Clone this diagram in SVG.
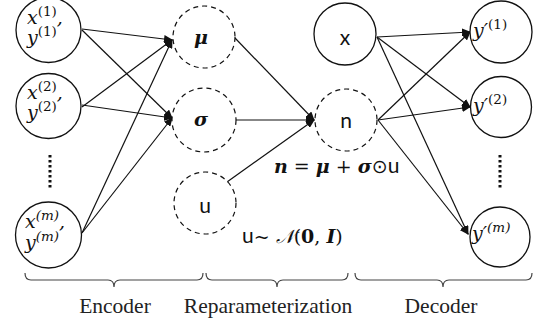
<svg xmlns="http://www.w3.org/2000/svg" width="536" height="323" viewBox="0 0 536 323">
<style>
.c{fill:#fff;stroke:#111;stroke-width:1.3}
.d{fill:#fff;stroke:#111;stroke-width:1.2;stroke-dasharray:5,4}
.e{stroke:#111;stroke-width:1.2;fill:none}
.m{font-family:"DejaVu Serif","Liberation Serif",serif;font-style:italic;font-size:19px;fill:#111}
.s{font-family:"DejaVu Serif","Liberation Serif",serif;font-style:normal;font-size:13.5px}
.si{font-family:"DejaVu Serif","Liberation Serif",serif;font-style:italic;font-size:13.5px}
.g{font-family:"DejaVu Serif","Liberation Serif",serif;font-style:italic;font-weight:bold;font-size:19px;fill:#111}
.sa{font-family:Lato,"Open Sans","Liberation Sans",sans-serif;font-size:21px;fill:#111}
.f{font-family:"DejaVu Serif","Liberation Serif",serif;font-size:19px;fill:#111}
.lb{font-family:"Liberation Serif",serif;font-size:21.5px;fill:#222}
.br{stroke:#444;stroke-width:1.2;fill:none}
.dot{stroke:#111;stroke-width:3;stroke-dasharray:2.5,2.5}
</style>
<defs>
<marker id="ah" markerWidth="9" markerHeight="8" refX="8" refY="4" orient="auto" markerUnits="userSpaceOnUse">
<path d="M0,0 L9,4 L0,8 Z" fill="#111"/>
</marker>
</defs>
<g id="connectors" class="e" marker-end="url(#ah)">
<line x1="82" y1="29" x2="172" y2="40"/>
<line x1="82" y1="30" x2="172" y2="118"/>
<line x1="82" y1="107" x2="172" y2="40"/>
<line x1="82" y1="105" x2="172" y2="118"/>
<line x1="82" y1="233" x2="172" y2="40"/>
<line x1="82" y1="233" x2="172" y2="118"/>
<line x1="235" y1="38" x2="314" y2="120"/>
<line x1="235" y1="120" x2="314" y2="120"/>
<line x1="227" y1="182" x2="314" y2="120"/>
<line x1="377" y1="37" x2="470" y2="32"/>
<line x1="377" y1="37" x2="470" y2="107"/>
<line x1="377" y1="37" x2="468" y2="234"/>
<line x1="378" y1="120" x2="470" y2="32"/>
<line x1="378" y1="120" x2="470" y2="107"/>
<line x1="378" y1="120" x2="468" y2="234"/>
</g>
<g id="in1"><circle class="c" cx="48.5" cy="30" r="32.5"/>
<text class="m" x="27" y="24">x<tspan class="s" y="16">(1)</tspan><tspan y="24">,</tspan></text>
<text class="m" x="27" y="44">y<tspan class="s" y="36">(1)</tspan></text></g>
<g id="in2"><circle class="c" cx="48.5" cy="106" r="32.5"/>
<text class="m" x="27" y="99">x<tspan class="s" y="91">(2)</tspan><tspan y="99">,</tspan></text>
<text class="m" x="27" y="119">y<tspan class="s" y="111">(2)</tspan></text></g>
<line id="dots-left" class="dot" x1="50" y1="155" x2="50" y2="189"/>
<g id="inm"><circle class="c" cx="48.5" cy="235" r="33"/>
<text class="m" x="25" y="228">x<tspan class="si" y="220">(m)</tspan><tspan y="228">,</tspan></text>
<text class="m" x="25" y="249">y<tspan class="si" y="241">(m)</tspan></text></g>
<g id="mu"><circle class="d" cx="204" cy="37" r="31"/>
<text class="g" x="201" y="44" text-anchor="middle">μ</text></g>
<g id="sigma"><circle class="d" cx="204" cy="120" r="32"/>
<text class="g" x="201" y="126" text-anchor="middle">σ</text></g>
<g id="u"><circle class="d" cx="205" cy="203" r="31"/>
<text class="sa" x="205" y="213" text-anchor="middle">u</text></g>
<g id="x"><circle class="c" cx="345" cy="34" r="31"/>
<text class="sa" x="345" y="45" text-anchor="middle">x</text></g>
<g id="n"><circle class="d" cx="346" cy="120" r="31"/>
<text class="sa" x="346" y="128" text-anchor="middle">n</text></g>
<g id="out1"><circle class="c" cx="501" cy="32" r="31"/>
<text class="m" x="473" y="37">y′<tspan class="s" y="29">(1)</tspan></text></g>
<g id="out2"><circle class="c" cx="501" cy="107" r="30.5"/>
<text class="m" x="473" y="112">y′<tspan class="s" y="104">(2)</tspan></text></g>
<line id="dots-right" class="dot" x1="500" y1="155" x2="500" y2="189"/>
<g id="outm"><circle class="c" cx="500" cy="237" r="30"/>
<text class="m" x="472" y="240">y′<tspan class="si" y="232">(m)</tspan></text></g>
<g id="formulas">
<text class="f" x="274" y="173"><tspan font-style="italic" font-weight="bold">n</tspan> = <tspan font-style="italic" font-weight="bold">μ</tspan> + <tspan font-style="italic" font-weight="bold">σ</tspan><tspan font-family="DejaVu Sans">⊙</tspan><tspan font-family="Lato,'Open Sans',sans-serif" font-size="21">u</tspan></text>
<text class="f" x="242" y="243"><tspan font-family="Lato,'Open Sans',sans-serif" font-size="21">u</tspan>~ <tspan font-style="italic">𝒩</tspan>(<tspan font-weight="bold">0</tspan>, <tspan font-weight="bold" font-style="italic">I</tspan>)</text>
</g>
<g id="braces">
<path class="br" d="M25,273 Q25,280 31,280 L108,280 Q114,280 114,287 Q114,280 120,280 L197,280 Q203,280 203,273"/>
<path class="br" d="M206,273 Q206,280 212,280 L271,280 Q277,280 277,287 Q277,280 283,280 L342,280 Q348,280 348,273"/>
<path class="br" d="M355,273 Q355,280 361,280 L437,280 Q443,280 443,287 Q443,280 449,280 L526,280 Q532,280 532,273"/>
<text class="lb" x="115" y="313" text-anchor="middle">Encoder</text>
<text class="lb" x="268" y="313" text-anchor="middle">Reparameterization</text>
<text class="lb" x="441" y="313" text-anchor="middle">Decoder</text>
</g>
</svg>
